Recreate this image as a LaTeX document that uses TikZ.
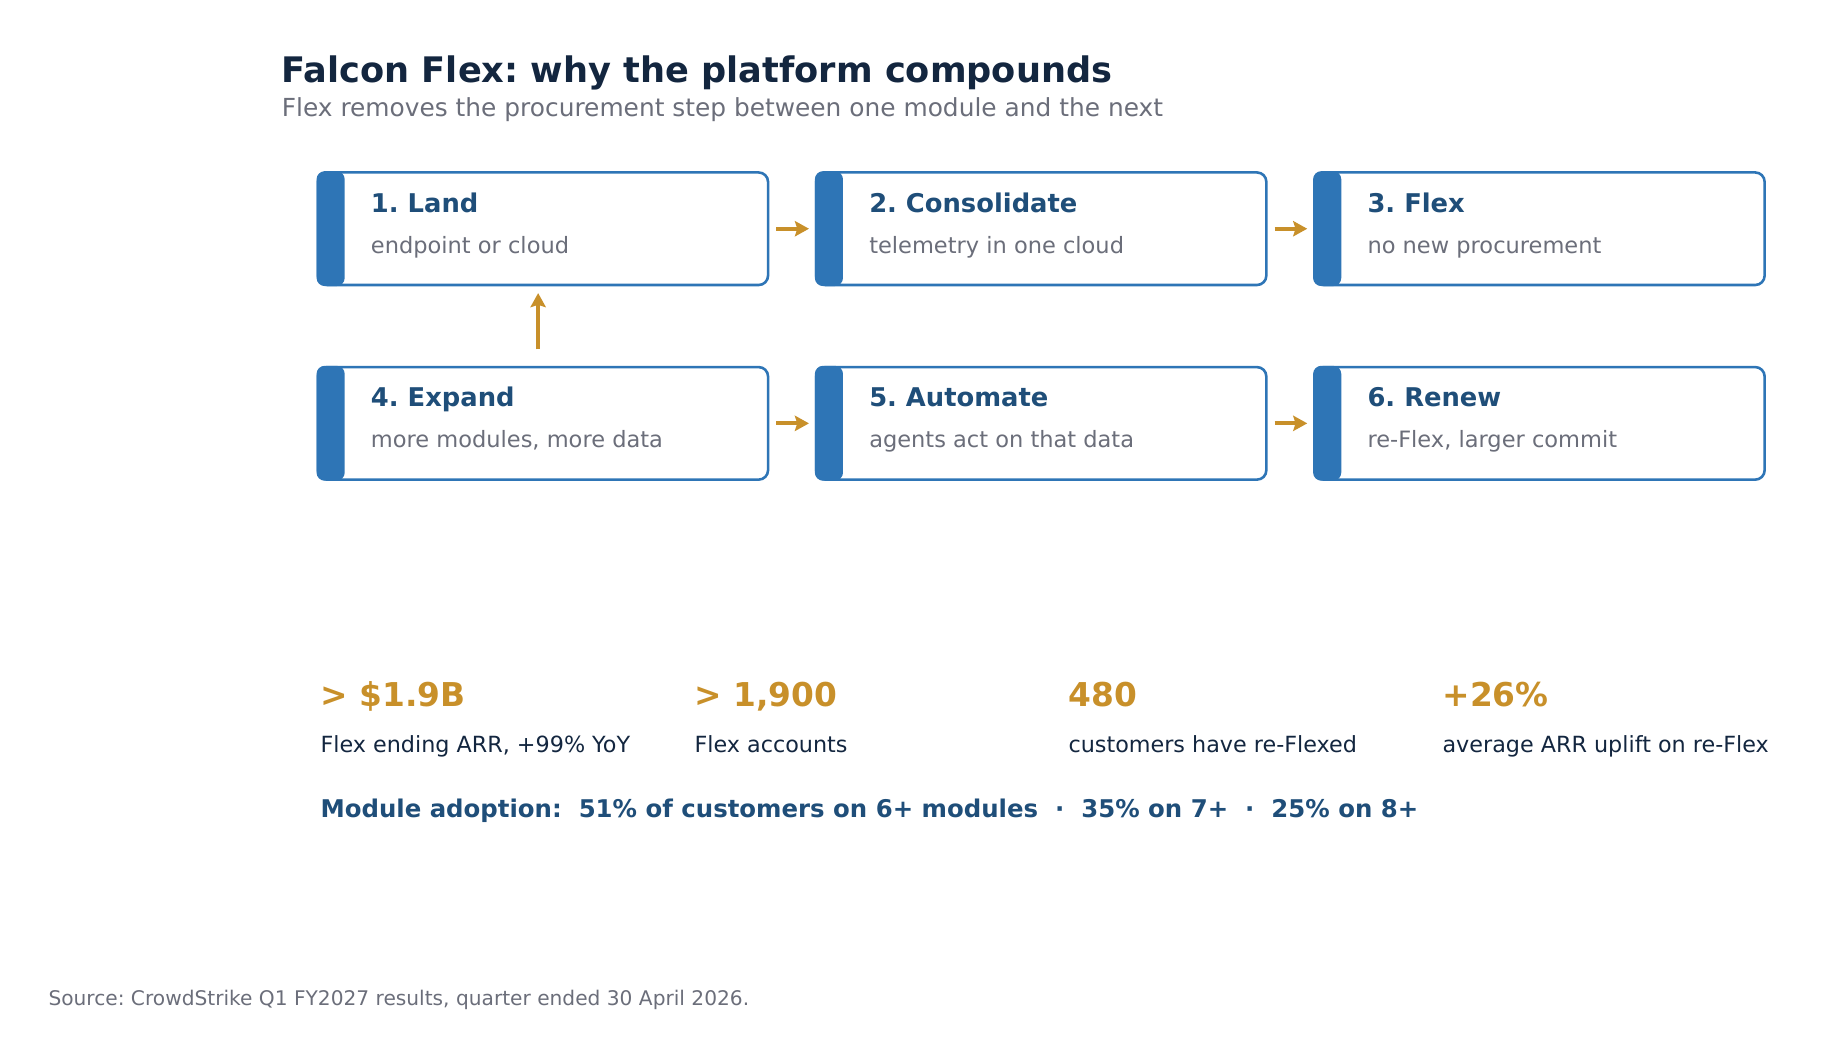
\documentclass[tikz,border=0pt]{standalone}
\usepackage{fontspec}
\setmainfont{DejaVu Sans}
\usetikzlibrary{arrows.meta}
\definecolor{navy}{HTML}{13263F}
\definecolor{gry}{HTML}{6B6E7A}
\definecolor{bt}{HTML}{1F4E79}
\definecolor{bb}{HTML}{2E75B6}
\definecolor{gold}{HTML}{C8902A}
\frenchspacing
\begin{document}
\begin{tikzpicture}[x=0.5pt,y=-0.5pt,
 box/.style={draw=bb,line width=1.1pt,rounded corners=4pt,fill=white,minimum width=192pt,minimum height=48pt,inner sep=0pt},
 bar/.style={fill=bb,rounded corners=3pt,minimum width=11pt,minimum height=48pt,inner sep=0pt,draw=bb,line width=1pt},
 bt/.style={anchor=base west,font=\bfseries\fontsize{11}{13}\selectfont,text=bt,inner sep=0pt},
 bs/.style={anchor=base west,font=\fontsize{9.6}{11}\selectfont,text=gry,inner sep=0pt},
 arr/.style={draw=gold,line width=1.6pt,-{Stealth[length=6pt,width=6.5pt,inset=1pt]}},
 num/.style={anchor=base west,font=\bfseries\fontsize{14}{16}\selectfont,text=gold,inner sep=0pt},
 lab/.style={anchor=base west,font=\fontsize{9.5}{11}\selectfont,text=navy,inner sep=0pt}]
\useasboundingbox (0,0) rectangle (1560,897);
\node[anchor=base west,inner sep=0pt,font=\bfseries\fontsize{15}{18}\selectfont,text=navy] (t) at (240,70) {Falcon Flex: why the platform compounds};
\node[anchor=base west,inner sep=0pt,font=\fontsize{10.6}{12}\selectfont,text=gry] (st) at (240,99) {Flex removes the procurement step between one module and the next};
\foreach \n/\x/\y/\a/\b in {1/270/146/1. Land/endpoint or cloud,2/695/146/2. Consolidate/telemetry in one cloud,3/1120/146/3. Flex/no new procurement,4/270/312/4. Expand/{more modules, more data},5/695/312/5. Automate/agents act on that data,6/1120/312/6. Renew/{re-Flex, larger commit}}{
 \node[box,anchor=north west] (b\n) at (\x,\y) {};
 \node[bar,anchor=north west] (r\n) at (\x,\y) {};
 \node[bt] (bt\n) at (\x+46,\y+35) {\a};
 \node[bs] (bs\n) at (\x+46,\y+70) {\b};
}
\draw[arr,shorten <=3pt,shorten >=2.5pt] (b1) -- (b2);
\draw[arr,shorten <=3pt,shorten >=2.5pt] (b2) -- (b3);
\draw[arr,shorten <=3pt,shorten >=2.5pt] (b4) -- (b5);
\draw[arr,shorten <=3pt,shorten >=2.5pt] (b5) -- (b6);
\coordinate (u4) at (459,312);
\coordinate (u1) at (459,242);
\draw[arr,shorten <=7pt,shorten >=4pt] (u4) -- (u1);
\foreach \n/\x/\a/\b in {1/273/{> \$1.9B}/{Flex ending ARR, +99\% YoY},2/592/{> 1,900}/{Flex accounts},3/911/{480}/{customers have re-Flexed},4/1230/{+26\%}/{average ARR uplift on re-Flex}}{
 \node[num] (n\n) at (\x,603) {\a};
 \node[lab] (l\n) at (\x,642) {\b};
}
\node[anchor=base west,inner sep=0pt,font=\bfseries\fontsize{10.4}{12}\selectfont,text=bt] (m) at (273,697) {Module adoption:\ \ 51\% of customers on 6+ modules\ \ ·\ \ 35\% on 7+\ \ ·\ \ 25\% on 8+};
\node[anchor=base west,inner sep=0pt,font=\fontsize{8.6}{10}\selectfont,text=gry] (src) at (41,858) {Source: CrowdStrike Q1 FY2027 results, quarter ended 30 April 2026.};
\end{tikzpicture}
\end{document}
